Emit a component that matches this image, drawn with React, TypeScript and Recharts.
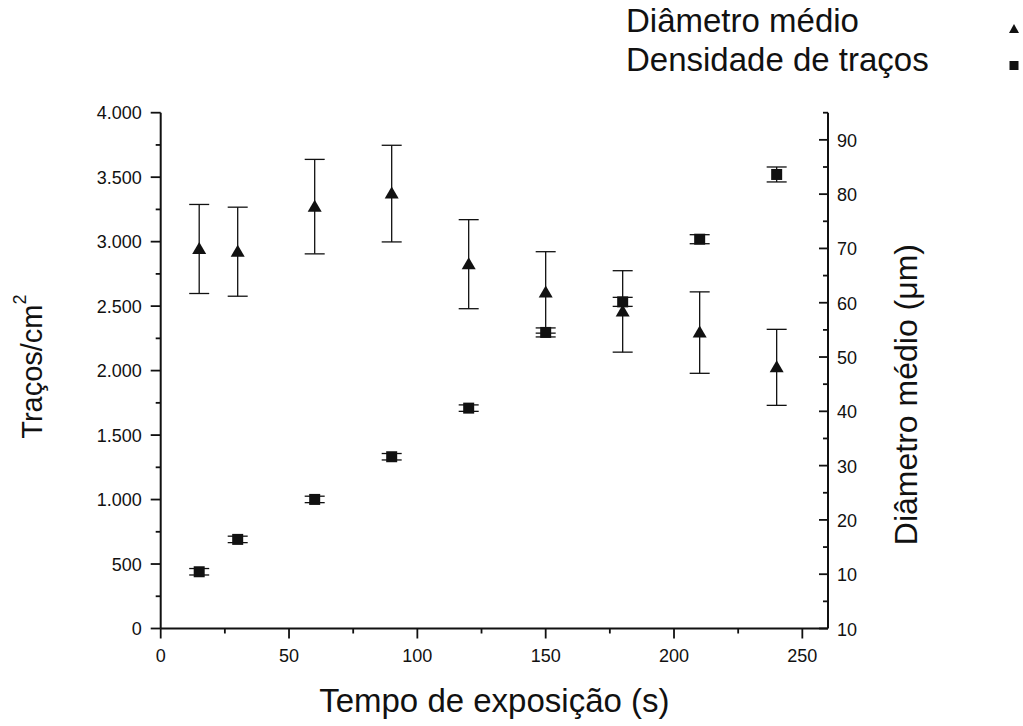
import React from 'react';
import { ComposedChart, Scatter, XAxis, YAxis, ErrorBar, Legend } from 'recharts';

// ---- data ----
const exposureTimes = [15, 30, 60, 90, 120, 150, 180, 210, 240];
const trackDensity = [440, 691, 1001, 1332, 1709, 2296, 2533, 3019, 3521];
const trackDensityError = [25, 25, 25, 25, 25, 35, 35, 35, 58];
const meanDiameter = [69.9, 69.4, 77.7, 80.1, 67.1, 61.9, 58.4, 54.5, 48.1];
const meanDiameterError = [8.2, 8.2, 8.7, 8.9, 8.2, 7.5, 7.5, 7.5, 7.0];

// ---- ticks ----
const xMajorTicks = [0, 50, 100, 150, 200, 250];
const xTickLabels = ['0', '50', '100', '150', '200', '250'];
const xMinorTicks = [25, 75, 125, 175, 225];
const leftMajorTicks = [0, 500, 1000, 1500, 2000, 2500, 3000, 3500, 4000];
const leftTickLabels = ['0', '500', '1.000', '1.500', '2.000', '2.500', '3.000', '3.500', '4.000'];
const leftMinorTicks = [250, 750, 1250, 1750, 2250, 2750, 3250, 3750];
const rightMajorTicks = [0, 10, 20, 30, 40, 50, 60, 70, 80, 90];
const rightTickLabels = ['10', '10', '20', '30', '40', '50', '60', '70', '80', '90'];
const rightMinorTicks = [5, 15, 25, 35, 45, 55, 65, 75, 85, 95];

// ---- texts ----
const seriesNames = ['Diâmetro médio', 'Densidade de traços'];
const xTitle = 'Tempo de exposição (s)';
const leftTitle = 'Traços/cm';
const leftTitleSup = '2';
const rightTitle = 'Diâmetro médio (μm)';

const FONT = '"Liberation Sans", Arial, Helvetica, sans-serif';
const INK = '#111';

const data = exposureTimes.map((x, i) => ({
  x,
  dens: trackDensity[i],
  densErr: trackDensityError[i],
  diam: meanDiameter[i],
  diamErr: meanDiameterError[i],
}));

const sortNum = (a: number[]) => [...a].sort((p, q) => p - q);
const xTicks = sortNum([...xMajorTicks, ...xMinorTicks]);
const leftTicks = sortNum([...leftMajorTicks, ...leftMinorTicks]);
const rightTicks = sortNum([...rightMajorTicks, ...rightMinorTicks]);

const XTick = (props: any) => {
  const { x, y, payload } = props;
  const i = xMajorTicks.indexOf(payload.value);
  const major = i >= 0;
  return (
    <g>
      <line x1={x} x2={x} y1={y} y2={y + (major ? 10 : 5)} stroke={INK} strokeWidth={1.8} />
      {major && (
        <text x={x} y={y + 33.5} textAnchor="middle" fontSize={18} fill={INK} fontFamily={FONT}>
          {xTickLabels[i]}
        </text>
      )}
    </g>
  );
};

const LeftTick = (props: any) => {
  const { x, y, payload } = props;
  const i = leftMajorTicks.indexOf(payload.value);
  const major = i >= 0;
  return (
    <g>
      <line x1={x} x2={x - (major ? 10 : 5)} y1={y} y2={y} stroke={INK} strokeWidth={1.8} />
      {major && (
        <text x={x - 19} y={y + 6.5} textAnchor="end" fontSize={18} fill={INK} fontFamily={FONT}>
          {leftTickLabels[i]}
        </text>
      )}
    </g>
  );
};

const RightTick = (props: any) => {
  const { x, y, payload } = props;
  const i = rightMajorTicks.indexOf(payload.value);
  const major = i >= 0;
  return (
    <g>
      <line x1={x} x2={x - (major ? 9 : 5)} y1={y} y2={y} stroke={INK} strokeWidth={1.8} />
      {major && (
        <text x={x + 9} y={y + 7} textAnchor="start" fontSize={18} fill={INK} fontFamily={FONT}>
          {rightTickLabels[i]}
        </text>
      )}
    </g>
  );
};

const xLabel = (props: any) => {
  const vb = props.viewBox || {};
  return (
    <text x={vb.x + vb.width / 2} y={vb.y + 83.5} textAnchor="middle" fontSize={33} fill={INK} fontFamily={FONT}>
      {xTitle}
    </text>
  );
};

const leftLabel = (props: any) => {
  const vb = props.viewBox || {};
  const cx = vb.x + 32;
  const cy = vb.y + vb.height / 2 - 4;
  return (
    <text
      x={cx}
      y={cy}
      transform={`rotate(-90, ${cx}, ${cy})`}
      textAnchor="middle"
      dominantBaseline="central"
      fontSize={29}
      fill={INK}
      fontFamily={FONT}
    >
      <tspan>{leftTitle}</tspan>
      <tspan dy={-12} fontSize={18}>{leftTitleSup}</tspan>
    </text>
  );
};

const rightLabel = (props: any) => {
  const vb = props.viewBox || {};
  const cx = vb.x + 78;
  const cy = vb.y + vb.height / 2 + 24;
  return (
    <text
      x={cx}
      y={cy}
      transform={`rotate(-90, ${cx}, ${cy})`}
      textAnchor="middle"
      dominantBaseline="central"
      fontSize={32}
      fill={INK}
      fontFamily={FONT}
    >
      {rightTitle}
    </text>
  );
};

const SquareShape = (props: any) => {
  const { cx, cy } = props;
  return <rect x={cx - 5.5} y={cy - 5.5} width={11} height={11} fill={INK} />;
};

const TriangleShape = (props: any) => {
  const { cx, cy } = props;
  return <path d={`M${cx},${cy - 7} L${cx + 7},${cy + 5} L${cx - 7},${cy + 5} Z`} fill={INK} />;
};

const LegendContent = () => (
  <svg width={1023} height={90} style={{ display: 'block' }}>
    <text x={626} y={32} fontSize={33} fill={INK} fontFamily={FONT}>
      {seriesNames[0]}
    </text>
    <path d="M1014,24 L1019,33 L1009,33 Z" fill={INK} />
    <text x={626} y={71} fontSize={33} fill={INK} fontFamily={FONT}>
      {seriesNames[1]}
    </text>
    <rect x={1009.5} y={61} width={9} height={9} fill={INK} />
  </svg>
);

export default function App() {
  return (
    <div style={{ position: 'absolute', left: 0, top: 0, width: 1023, height: 726, background: '#fff' }}>
      <ComposedChart
        width={1023}
        height={726}
        data={data}
        margin={{ top: 112.7, right: 0, bottom: 0, left: 0 }}
        style={{ fontFamily: FONT }}
      >
        <XAxis
          dataKey="x"
          type="number"
          domain={[0, 260]}
          ticks={xTicks}
          interval={0}
          height={97.5}
          axisLine={{ stroke: INK, strokeWidth: 2 }}
          tickLine={false}
          tickSize={0}
          tickMargin={0}
          tick={XTick}
          label={xLabel}
          allowDataOverflow
        />
        <YAxis
          yAxisId="left"
          orientation="left"
          dataKey="dens"
          type="number"
          domain={[0, 4000]}
          ticks={leftTicks}
          interval={0}
          width={160.7}
          axisLine={{ stroke: INK, strokeWidth: 2 }}
          tickLine={false}
          tickSize={0}
          tickMargin={0}
          tick={LeftTick}
          label={leftLabel}
          allowDataOverflow
        />
        <YAxis
          yAxisId="right"
          orientation="right"
          dataKey="diam"
          type="number"
          domain={[0, 95]}
          ticks={rightTicks}
          interval={0}
          width={195}
          axisLine={{ stroke: INK, strokeWidth: 2 }}
          tickLine={false}
          tickSize={0}
          tickMargin={0}
          tick={RightTick}
          label={rightLabel}
          allowDataOverflow
        />
        <Scatter
          yAxisId="left"
          name={seriesNames[1]}
          dataKey="dens"
          fill={INK}
          shape={SquareShape}
          isAnimationActive={false}
        >
          <ErrorBar dataKey="densErr" direction="y" width={10} stroke={INK} strokeWidth={1.3} isAnimationActive={false} />
        </Scatter>
        <Scatter
          yAxisId="right"
          name={seriesNames[0]}
          dataKey="diam"
          fill={INK}
          shape={TriangleShape}
          isAnimationActive={false}
        >
          <ErrorBar dataKey="diamErr" direction="y" width={10} stroke={INK} strokeWidth={1.3} isAnimationActive={false} />
        </Scatter>
        <Legend
          layout="horizontal"
          verticalAlign="middle"
          align="center"
          content={LegendContent}
          wrapperStyle={{ left: 0, top: 0, width: 1023, height: 90 }}
        />
      </ComposedChart>
    </div>
  );
}
